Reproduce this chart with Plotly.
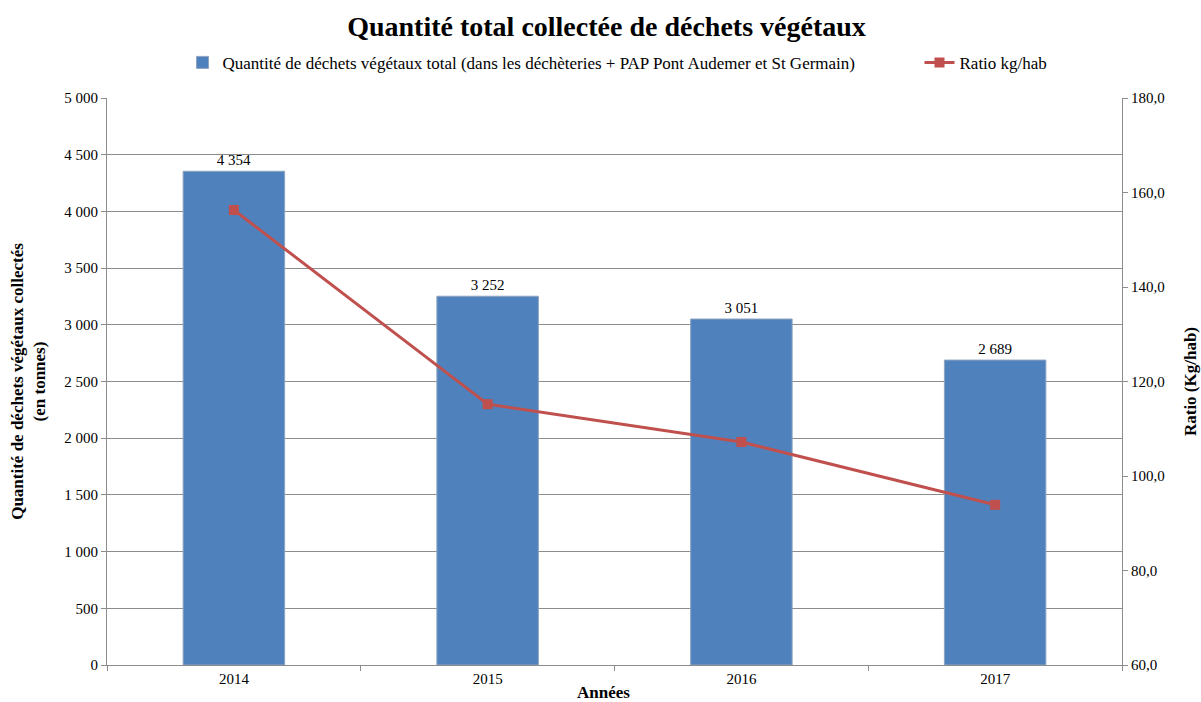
import plotly.graph_objects as go

years = ["2014", "2015", "2016", "2017"]
tonnes = [4354, 3252, 3051, 2689]
ratio = [156.3, 115.2, 107.2, 93.9]
bar_name = "Quantité de déchets végétaux total (dans les déchèteries + PAP Pont Audemer et St Germain)"
line_name = "Ratio kg/hab"

FONT = "Liberation Serif"

fig = go.Figure()
fig.add_trace(go.Bar(
    x=years, y=tonnes, name=bar_name + "\u00a0" * 14,
    marker=dict(color="#4F81BD", line=dict(color="#8EA4C0", width=1)),
    width=0.4,
    text=[f"{v:,d}".replace(",", " ") for v in tonnes],
    textposition="outside", cliponaxis=False,
    textfont=dict(family=FONT, size=15, color="#000000"),
    yaxis="y",
))
fig.add_trace(go.Scatter(
    x=years, y=ratio, name=line_name, mode="lines+markers",
    line=dict(color="#C0504D", width=3),
    marker=dict(symbol="square", size=10, color="#C0504D"),
    yaxis="y2",
))

fig.update_layout(
    width=1201, height=702,
    paper_bgcolor="white", plot_bgcolor="white",
    separators=", ",
    font=dict(family=FONT, size=15, color="#000000"),
    margin=dict(l=107, r=79, t=98, b=37),
    title=dict(text="<b>Quantité total collectée de déchets végétaux</b>",
               x=0.505, xanchor="center", y=0.962, yanchor="middle",
               font=dict(family=FONT, size=28, color="#000000")),
    legend=dict(orientation="h", x=0.503, xanchor="center", y=1.062, yanchor="middle",
                font=dict(family=FONT, size=17), traceorder="normal",
                itemwidth=30, bgcolor="rgba(0,0,0,0)"),
    xaxis=dict(type="category", showline=True, linecolor="#8C8C8C", linewidth=1,
               ticks="outside", tickson="boundaries", ticklen=5, tickcolor="#8C8C8C",
               tickfont=dict(family=FONT, size=15), showgrid=False, zeroline=False),
    yaxis=dict(range=[0, 5000], dtick=500, tickformat=",d", showline=True,
               linecolor="#8C8C8C", ticks="outside", ticklen=5, tickcolor="#8C8C8C",
               showgrid=True, gridcolor="#8C8C8C", gridwidth=1, zeroline=False,
               tickfont=dict(family=FONT, size=15), automargin=False,
               title=dict(text="<b>Quantité de déchets végétaux collectés<br>(en tonnes)</b>",
                          font=dict(family=FONT, size=17), standoff=14)),
    yaxis2=dict(range=[60, 180], dtick=20, tickformat=".1f", overlaying="y", side="right",
                showline=True, linecolor="#8C8C8C", ticks="outside", ticklen=5,
                tickcolor="#8C8C8C", showgrid=False, zeroline=False,
                tickfont=dict(family=FONT, size=15), automargin=False,
                title=dict(text="<b>Ratio (Kg/hab)</b>", font=dict(family=FONT, size=17),
                           standoff=20)),
    annotations=[dict(text="<b>Années</b>", xref="paper", yref="paper", x=0.489, y=0,
                      xanchor="center", yanchor="top", yshift=-16, showarrow=False,
                      font=dict(family=FONT, size=17))],
)

fig.write_html("out.html", config={"displayModeBar": False},
               post_script="document.body.style.margin='0';document.body.style.overflow='hidden';")
